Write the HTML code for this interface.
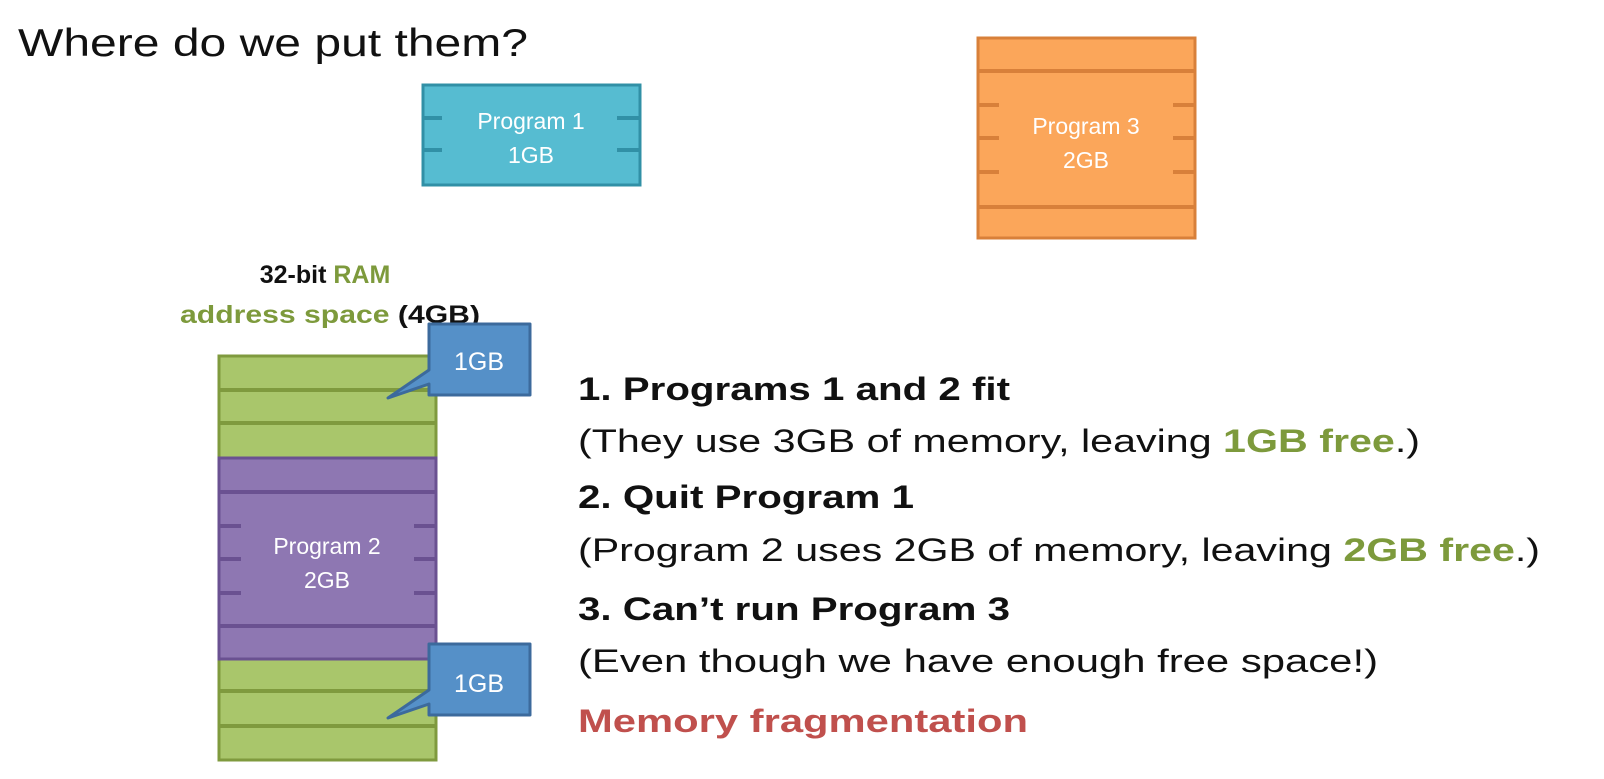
<!DOCTYPE html>
<html><head><meta charset="utf-8"><style>
html,body{margin:0;padding:0;background:#fff;width:1604px;height:779px;overflow:hidden}
svg{display:block}
text{font-family:"Liberation Sans",sans-serif}
</style></head><body>
<svg width="1604" height="779" viewBox="0 0 1604 779" xmlns="http://www.w3.org/2000/svg">
<text x="18" y="56" font-size="39" fill="#111" textLength="510" lengthAdjust="spacingAndGlyphs">Where do we put them?</text>

<!-- Program 1 -->
<rect x="423" y="85" width="217" height="100" fill="#56bcd1" stroke="#3190a6" stroke-width="3"/>
<g stroke="#3190a6" stroke-width="4">
<line x1="423" y1="118" x2="442" y2="118"/><line x1="423" y1="150" x2="442" y2="150"/>
<line x1="617" y1="118" x2="640" y2="118"/><line x1="617" y1="150" x2="640" y2="150"/>
</g>
<text x="531" y="129" font-size="23" fill="#fff" text-anchor="middle">Program 1</text>
<text x="531" y="163" font-size="23" fill="#fff" text-anchor="middle">1GB</text>

<!-- Program 3 -->
<rect x="978" y="38" width="217" height="200" fill="#fba65a" stroke="#d8803a" stroke-width="3"/>
<g stroke="#d8803a" stroke-width="4">
<line x1="978" y1="71" x2="1195" y2="71"/><line x1="978" y1="207" x2="1195" y2="207"/>
<line x1="978" y1="105" x2="999" y2="105"/><line x1="978" y1="138" x2="999" y2="138"/><line x1="978" y1="172" x2="999" y2="172"/>
<line x1="1173" y1="105" x2="1195" y2="105"/><line x1="1173" y1="138" x2="1195" y2="138"/><line x1="1173" y1="172" x2="1195" y2="172"/>
</g>
<text x="1086" y="134" font-size="23" fill="#fff" text-anchor="middle">Program 3</text>
<text x="1086" y="168" font-size="23" fill="#fff" text-anchor="middle">2GB</text>

<!-- RAM label -->
<text x="325" y="283" font-size="25" font-weight="bold" text-anchor="middle"><tspan fill="#111">32-bit </tspan><tspan fill="#7d9a3c">RAM</tspan></text>
<text x="180" y="323" font-size="25" font-weight="bold" textLength="300" lengthAdjust="spacingAndGlyphs"><tspan fill="#7d9a3c">address space </tspan><tspan fill="#111">(4GB)</tspan></text>

<!-- RAM column green -->
<rect x="219" y="356" width="217" height="404" fill="#a9c66b" stroke="#7f9a3e" stroke-width="3"/>
<g stroke="#7f9a3e" stroke-width="4">
<line x1="219" y1="390" x2="436" y2="390"/><line x1="219" y1="423" x2="436" y2="423"/>
<line x1="219" y1="691" x2="436" y2="691"/><line x1="219" y1="726" x2="436" y2="726"/>
</g>
<!-- Program 2 -->
<rect x="219" y="458" width="217" height="201" fill="#8e77b2" stroke="#6a5191" stroke-width="3"/>
<g stroke="#6a5191" stroke-width="4">
<line x1="219" y1="492" x2="436" y2="492"/><line x1="219" y1="626" x2="436" y2="626"/>
<line x1="219" y1="526" x2="241" y2="526"/><line x1="219" y1="559" x2="241" y2="559"/><line x1="219" y1="593" x2="241" y2="593"/>
<line x1="414" y1="526" x2="436" y2="526"/><line x1="414" y1="559" x2="436" y2="559"/><line x1="414" y1="593" x2="436" y2="593"/>
</g>
<text x="327" y="554" font-size="23" fill="#fff" text-anchor="middle">Program 2</text>
<text x="327" y="588" font-size="23" fill="#fff" text-anchor="middle">2GB</text>

<!-- callouts -->
<path d="M429 324 H530 V395 H429 V384 L388 398 L429 370 Z" fill="#5590c8" stroke="#3c6a9c" stroke-width="3" stroke-linejoin="round"/>
<text x="479" y="370" font-size="25" fill="#fff" text-anchor="middle">1GB</text>
<path d="M429 644 H530 V715 H429 V704 L388 718 L429 690 Z" fill="#5590c8" stroke="#3c6a9c" stroke-width="3" stroke-linejoin="round"/>
<text x="479" y="692" font-size="25" fill="#fff" text-anchor="middle">1GB</text>

<!-- right text -->
<g font-size="32" fill="#111">
<text x="578" y="400" font-weight="bold" textLength="432" lengthAdjust="spacingAndGlyphs">1. Programs 1 and 2 fit</text>
<text x="578" y="452" textLength="842" lengthAdjust="spacingAndGlyphs">(They use 3GB of memory, leaving <tspan fill="#7d9a3c" font-weight="bold">1GB free</tspan>.)</text>
<text x="578" y="508" font-weight="bold" textLength="336" lengthAdjust="spacingAndGlyphs">2. Quit Program 1</text>
<text x="578" y="561" textLength="962" lengthAdjust="spacingAndGlyphs">(Program 2 uses 2GB of memory, leaving <tspan fill="#7d9a3c" font-weight="bold">2GB free</tspan>.)</text>
<text x="578" y="620" font-weight="bold" textLength="432" lengthAdjust="spacingAndGlyphs">3. Can’t run Program 3</text>
<text x="578" y="672" textLength="800" lengthAdjust="spacingAndGlyphs">(Even though we have enough free space!)</text>
<text x="578" y="732" font-weight="bold" fill="#c0504d" textLength="450" lengthAdjust="spacingAndGlyphs">Memory fragmentation</text>
</g>
</svg>
</body></html>
